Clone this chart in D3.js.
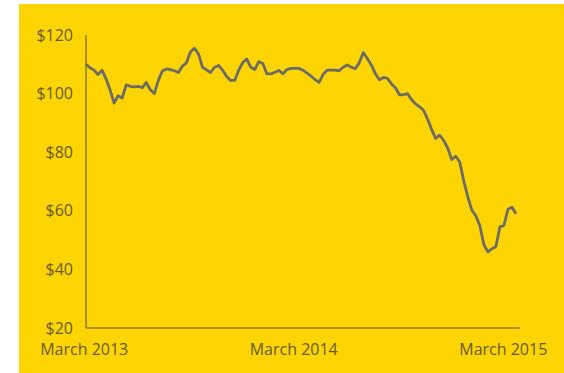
<!DOCTYPE html>
<html>
<head>
<meta charset="utf-8">
<script src="https://cdn.jsdelivr.net/npm/d3@7"></script>
<style>
  html, body { margin: 0; padding: 0; background: #ffffff; }
  svg { display: block; }
  .tick text { font-family: "Open Sans", sans-serif; fill: #665a26; }
</style>
</head>
<body>
<svg id="vis" width="564" height="373"></svg>
<script>
// Encontrar el SVG
const SVG = d3.select("#vis");

// Datos: precio semanal (USD por barril), a partir de la primera semana
const FECHA_INICIO = "2013-03-05";
const PRECIOS = [
  110, 108.8, 108, 106.5, 108, 105, 101.2, 96.8, 99.3, 98.5,
  103, 102.5, 102.3, 102.5, 102, 103.8, 101.3, 100, 104.5, 107.7,
  108.4, 108.2, 107.8, 107.2, 109.4, 110.5, 114.3, 115.5, 113.5, 109,
  108.1, 107.2, 109, 109.6, 108, 105.8, 104.5, 104.5, 108, 110.6,
  111.8, 109, 108.2, 110.9, 110.3, 106.8, 106.7, 107.3, 107.9, 106.8,
  108.2, 108.6, 108.6, 108.6, 108, 107, 106, 104.8, 103.8, 106.5,
  108, 108, 108, 107.8, 109, 109.8, 109, 108.5, 110.5, 114,
  112, 109.8, 106.8, 104.7, 105.5, 105.2, 103.3, 102, 99.6, 99.6,
  100, 98, 96.5, 95.5, 94.3, 91.3, 87.8, 84.7, 85.8, 84,
  81.5, 77.5, 78.6, 76.7, 70.2, 64.8, 60.3, 58.3, 55, 48.5,
  46, 47, 47.8, 54.5, 55, 60.5, 61.2, 59
];

// Ticks
const Y_TICKS = [20, 40, 60, 80, 100, 120];
const X_TICK_FECHAS = ["2013-03-01", "2014-03-01", "2015-03-01"];
const X_TICK_TEXTOS = ["March 2013", "March 2014", "March 2015"];

const parse = d3.timeParse("%Y-%m-%d");
const inicio = parse(FECHA_INICIO);
const datos = PRECIOS.map((p, i) => ({ fecha: d3.timeDay.offset(inicio, 7 * i), precio: p }));

// Fondo amarillo
SVG.append("rect")
  .attr("x", 19).attr("y", 4)
  .attr("width", 545).attr("height", 369)
  .attr("fill", "#fed500");

// Escalas
const x = d3.scaleTime()
  .domain([inicio, parse("2015-03-31")])
  .range([86, 520]);

const y = d3.scaleLinear()
  .domain([20, 120])
  .range([328, 35]);

// Eje Y (solo texto, la linea va aparte)
const ejeY = SVG.append("g")
  .attr("transform", "translate(73,0)")
  .call(d3.axisLeft(y).tickValues(Y_TICKS).tickSize(0).tickPadding(0)
    .tickFormat(d => "$" + d));
ejeY.select(".domain").remove();
ejeY.selectAll("text").style("font-size", "16px");

// Eje X
const ejeX = SVG.append("g")
  .attr("transform", "translate(0,344)")
  .call(d3.axisBottom(x)
    .tickValues(X_TICK_FECHAS.map(parse))
    .tickSize(0).tickPadding(0)
    .tickFormat((d, i) => X_TICK_TEXTOS[i]));
ejeX.select(".domain").remove();
ejeX.selectAll("text").style("font-size", "16px");

// Lineas de los ejes
SVG.append("line")
  .attr("x1", x.range()[0]).attr("x2", x.range()[0])
  .attr("y1", y(120)).attr("y2", y(20))
  .attr("stroke", "#8c7b22").attr("stroke-width", 1.5);

SVG.append("line")
  .attr("x1", x.range()[0]).attr("x2", x.range()[1])
  .attr("y1", y(20)).attr("y2", y(20))
  .attr("stroke", "#8c7b22").attr("stroke-width", 1.5);

// Linea de precios
const linea = d3.line()
  .x(d => x(d.fecha))
  .y(d => y(d.precio));

SVG.append("path")
  .datum(datos)
  .attr("d", linea)
  .attr("fill", "none")
  .attr("stroke", "#6d6b66")
  .attr("stroke-width", 2.8)
  .attr("stroke-linejoin", "round");
</script>
</body>
</html>
